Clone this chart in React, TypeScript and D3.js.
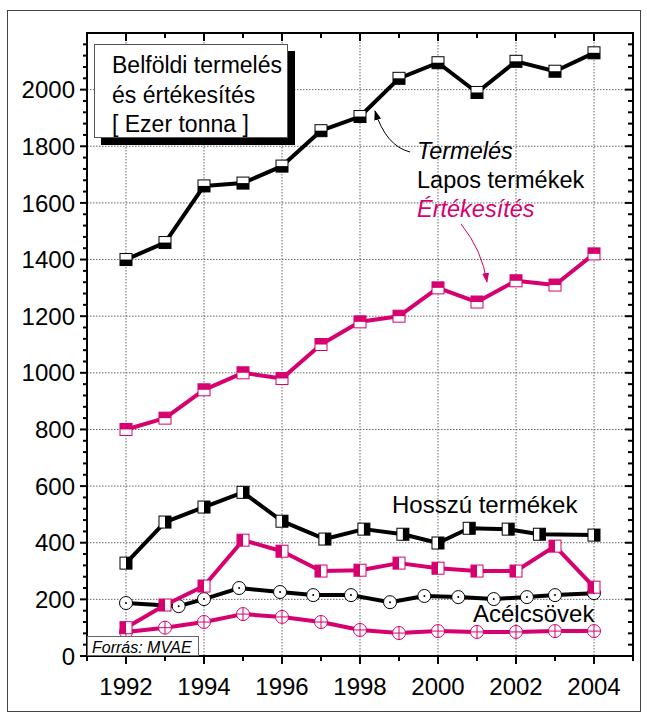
import React from 'react';
import * as d3 from 'd3';

const YEARS = [1992, 1993, 1994, 1995, 1996, 1997, 1998, 1999, 2000, 2001, 2002, 2003, 2004];
const LAPOS_TERMELES = [1400, 1460, 1660, 1670, 1730, 1855, 1905, 2040, 2095, 1990, 2100, 2065, 2130];
const LAPOS_ERTEKESITES = [800, 840, 940, 1000, 980, 1100, 1180, 1200, 1300, 1250, 1325, 1310, 1420];
const HOSSZU_TERMELES_X = [1992, 1993, 1994, 1995, 1996, 1997.1, 1998.1, 1999.1, 2000, 2000.8, 2001.8, 2002.6, 2004];
const HOSSZU_TERMELES = [328, 473, 526, 578, 476, 413, 448, 430, 399, 451, 448, 430, 427];
const HOSSZU_ERTEKESITES = [100, 180, 247, 409, 370, 300, 303, 328, 310, 300, 300, 388, 243];
const ACEL_TERMELES_X = [1992, 1993.35, 1994, 1994.9, 1995.95, 1996.8, 1997.77, 1998.77, 1999.65, 2000.52, 2001.43, 2002.28, 2003, 2004];
const ACEL_TERMELES = [187, 176, 201, 240, 226, 215, 215, 190, 212, 208, 201, 208, 215, 222];
const ACEL_ERTEKESITES = [85, 100, 120, 148, 138, 120, 92, 81, 88, 85, 85, 88, 88];

const Y_MAJOR = [0, 200, 400, 600, 800, 1000, 1200, 1400, 1600, 1800, 2000];
const X_MAJOR = [1992, 1994, 1996, 1998, 2000, 2002, 2004];
const LEGEND_LINES = ['Belföldi termelés', 'és értékesítés', '[ Ezer tonna ]'];

const PINK = '#D6006F';
const FONT = '"Liberation Sans", Arial, Helvetica, sans-serif';

const W = 647;
const H = 719;
const L = 87, R = 633, T = 33, B = 656;

const x = d3.scaleLinear().domain([1991, 2005]).range([L, R]);
const y = d3.scaleLinear().domain([0, 2200]).range([B, T]);

type Kind = 'sqTB' | 'sqLR' | 'circDot' | 'circCross';

function Marker({ cx, cy, kind, color }: { cx: number; cy: number; kind: Kind; color: string }) {
  const s = 12;
  const h = s / 2;
  if (kind === 'sqTB') {
    const dark = color !== PINK;
    return (
      <g>
        <rect x={cx - h} y={cy - h} width={s} height={s} fill="#fff" stroke={color} strokeWidth={1} />
        <rect x={cx - h} y={dark ? cy : cy - h} width={s} height={h} fill={color} />
      </g>
    );
  }
  if (kind === 'sqLR') {
    const dark = color !== PINK;
    return (
      <g>
        <rect x={cx - h} y={cy - h} width={s} height={s} fill="#fff" stroke={color} strokeWidth={1} />
        <rect x={dark ? cx : cx - h} y={cy - h} width={h} height={s} fill={color} />
      </g>
    );
  }
  if (kind === 'circDot') {
    return (
      <g>
        <circle cx={cx} cy={cy} r={6.5} fill="#fff" stroke={color} strokeWidth={1} />
        <circle cx={cx} cy={cy} r={1} fill={color} />
      </g>
    );
  }
  return (
    <g>
      <circle cx={cx} cy={cy} r={6.5} fill="#fff" stroke={color} strokeWidth={1} />
      <line x1={cx - 6.5} x2={cx + 6.5} y1={cy} y2={cy} stroke={color} strokeWidth={1} />
      <line x1={cx} x2={cx} y1={cy - 6.5} y2={cy + 6.5} stroke={color} strokeWidth={1} />
    </g>
  );
}

function Series({ xs, vs, color, kind, width = 4 }: { xs: number[]; vs: number[]; color: string; kind: Kind; width?: number }) {
  const pts: [number, number][] = xs.map((xv, i) => [x(xv), y(vs[i])]);
  const line = d3.line();
  return (
    <g>
      <path d={line(pts) || ''} fill="none" stroke={color} strokeWidth={width} strokeLinejoin="round" />
      {pts.map((p, i) => (
        <Marker key={i} cx={p[0]} cy={p[1]} kind={kind} color={color} />
      ))}
    </g>
  );
}

export default function App() {
  const yMinor = d3.range(0, 2201, 40).filter((v) => v % 200 !== 0);
  const xAll = d3.range(1991, 2006, 1);
  return (
    <div style={{ position: 'absolute', left: 0, top: 0 }}>
      <svg width={W} height={H} style={{ display: 'block', fontFamily: FONT }}>
        <defs>
          <marker id="arrBlack" viewBox="0 0 10 10" refX="9" refY="5" markerWidth="10" markerHeight="10" orient="auto" markerUnits="userSpaceOnUse">
            <path d="M0,1.5 L10,5 L0,8.5 z" fill="#000" />
          </marker>
          <marker id="arrPink" viewBox="0 0 10 10" refX="9" refY="5" markerWidth="10" markerHeight="10" orient="auto" markerUnits="userSpaceOnUse">
            <path d="M0,1.5 L10,5 L0,8.5 z" fill={PINK} />
          </marker>
        </defs>
        <rect x={0} y={0} width={W} height={H} fill="#fff" />
        <rect x={7.5} y={10.5} width={633} height={701} fill="none" stroke="#444" strokeWidth={1} />

        {/* grid */}
        {Y_MAJOR.filter((v) => v > 0).map((v) => (
          <line key={'gy' + v} x1={L} x2={R} y1={y(v)} y2={y(v)} stroke="#666" strokeWidth={1} strokeDasharray="1.5,1.5" />
        ))}
        {X_MAJOR.map((v) => (
          <line key={'gx' + v} x1={x(v)} x2={x(v)} y1={T} y2={B} stroke="#666" strokeWidth={1} strokeDasharray="1.5,1.5" />
        ))}

        {/* axes frame */}
        <rect x={L} y={T} width={R - L} height={B - T} fill="none" stroke="#000" strokeWidth={2} />

        {/* left ticks (outward) */}
        {Y_MAJOR.map((v) => (
          <line key={'lt' + v} x1={L - 7} x2={L} y1={y(v)} y2={y(v)} stroke="#000" strokeWidth={2} />
        ))}
        {yMinor.map((v) => (
          <line key={'lm' + v} x1={L - 4} x2={L} y1={y(v)} y2={y(v)} stroke="#000" strokeWidth={2} />
        ))}
        {/* right ticks (inward) */}
        {Y_MAJOR.map((v) => (
          <line key={'rt' + v} x1={R - 8} x2={R} y1={y(v)} y2={y(v)} stroke="#000" strokeWidth={2} />
        ))}
        {yMinor.map((v) => (
          <line key={'rm' + v} x1={R - 5} x2={R} y1={y(v)} y2={y(v)} stroke="#000" strokeWidth={2} />
        ))}
        {/* bottom ticks (outward) & top ticks (inward) */}
        {xAll.map((v) => {
          const major = v % 2 === 0;
          return (
            <g key={'xt' + v}>
              <line x1={x(v)} x2={x(v)} y1={B} y2={B + (major ? 8 : 5)} stroke="#000" strokeWidth={2} />
              <line x1={x(v)} x2={x(v)} y1={T} y2={T + (major ? 8 : 5)} stroke="#000" strokeWidth={2} />
            </g>
          );
        })}

        {/* tick labels */}
        {Y_MAJOR.map((v) => (
          <text key={'yl' + v} x={75} y={y(v)} dy="0.36em" textAnchor="end" fontSize={24} fill="#000">
            {v}
          </text>
        ))}
        {X_MAJOR.map((v) => (
          <text key={'xl' + v} x={x(v)} y={695} textAnchor="middle" fontSize={24} fill="#000">
            {v}
          </text>
        ))}

        {/* series */}
        <Series xs={YEARS} vs={ACEL_ERTEKESITES} color={PINK} kind="circCross" />
        <Series xs={ACEL_TERMELES_X} vs={ACEL_TERMELES} color="#000" kind="circDot" />
        <Series xs={YEARS} vs={HOSSZU_ERTEKESITES} color={PINK} kind="sqLR" />
        <Series xs={HOSSZU_TERMELES_X} vs={HOSSZU_TERMELES} color="#000" kind="sqLR" />
        <Series xs={YEARS} vs={LAPOS_ERTEKESITES} color={PINK} kind="sqTB" />
        <Series xs={YEARS} vs={LAPOS_TERMELES} color="#000" kind="sqTB" />

        {/* legend box */}
        <rect x={101} y={51} width={194} height={94} fill="#000" />
        <rect x={94.5} y={44.5} width={193} height={93} fill="#fff" stroke="#555" strokeWidth={1} />
        {LEGEND_LINES.map((t, i) => (
          <text key={'lg' + i} x={112} y={73 + i * 29.5} fontSize={23} fill="#000">
            {t}
          </text>
        ))}

        {/* source box */}
        <rect x={L + 0.5} y={636.5} width={111} height={19} fill="#fff" stroke="#666" strokeWidth={1} />
        <text x={92} y={652.5} fontSize={16} fontStyle="italic" fill="#000">
          Forrás: MVAE
        </text>

        {/* annotations */}
        <path d="M410,152 Q386,146 375,111" fill="none" stroke="#000" strokeWidth={1} markerEnd="url(#arrBlack)" />
        <text x={417} y={159} fontSize={23.5} fontStyle="italic" fill="#000">Termelés</text>
        <text x={417} y={188} fontSize={23.5} fill="#000">Lapos termékek</text>
        <text x={417} y={217} fontSize={23.5} fontStyle="italic" fill={PINK}>Értékesítés</text>
        <path d="M461,224 Q482,250 487,282" fill="none" stroke={PINK} strokeWidth={1} markerEnd="url(#arrPink)" />
        <text x={392} y={513} fontSize={24} fill="#000">Hosszú termékek</text>
        <text x={473} y={622} fontSize={24} fill="#000">Acélcsövek</text>
      </svg>
    </div>
  );
}
